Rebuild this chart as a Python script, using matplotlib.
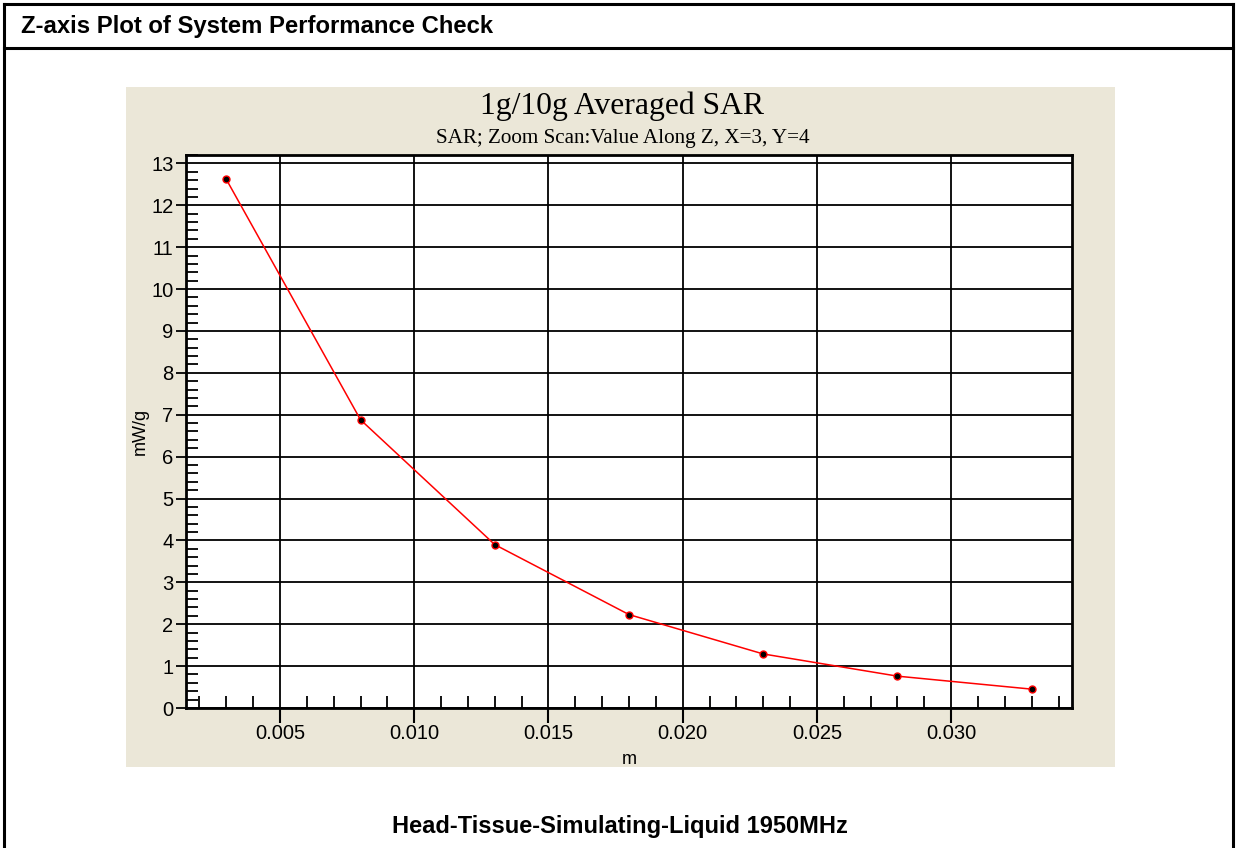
import matplotlib
matplotlib.use("Agg")
import matplotlib.pyplot as plt
from matplotlib.patches import Rectangle
from matplotlib.lines import Line2D
from matplotlib.ticker import MultipleLocator, FormatStrFormatter

# Data
z_m = [0.003, 0.008, 0.013, 0.018, 0.023, 0.028, 0.033]
sar = [12.62, 6.88, 3.90, 2.23, 1.29, 0.76, 0.45]

header = "Z-axis Plot of System Performance Check"
title = "1g/10g Averaged SAR"
subtitle = "SAR; Zoom Scan:Value Along Z, X=3, Y=4"
xlabel = "m"
ylabel = "mW/g"
footer = "Head-Tissue-Simulating-Liquid 1950MHz"

W, H = 1237, 848
fig = plt.figure(figsize=(W / 100, H / 100), dpi=100)
fig.patch.set_facecolor("white")

def fx(px):
    return px / W

def fy(py):
    return 1 - py / H

# Outer frame (left, right, top) and header separator
lw_frame = 2.2
kw = dict(color="black", lw=lw_frame, transform=fig.transFigure, solid_capstyle="projecting")
fig.add_artist(Line2D([fx(4), fx(4)], [fy(4), fy(850)], **kw))
fig.add_artist(Line2D([fx(1233), fx(1233)], [fy(4), fy(850)], **kw))
fig.add_artist(Line2D([fx(4), fx(1233)], [fy(4), fy(4)], **kw))
fig.add_artist(Line2D([fx(4), fx(1233)], [fy(48), fy(48)], **kw))

fig.text(fx(21), fy(27), header, fontsize=17.2, fontweight="bold", family="Liberation Sans",
         ha="left", va="center")

# Beige panel
fig.add_artist(Rectangle((fx(126), fy(767)), fx(1115 - 126), (767 - 87) / H,
                         facecolor="#EBE7D8", edgecolor="none", transform=fig.transFigure, zorder=0))

fig.text(fx(622), fy(106), title, fontsize=22.8, family="Liberation Serif", ha="center", va="center")
fig.text(fx(623), fy(138), subtitle, fontsize=15.2, family="Liberation Serif", ha="center", va="center")

# Axes
ax = fig.add_axes([fx(186), fy(708), fx(1072 - 186), (708 - 155) / H])
ax.set_facecolor("white")
ax.plot(z_m, sar, color="red", lw=1.1, zorder=3)
ax.plot(z_m, sar, ls="none", marker="o", ms=5, markerfacecolor="black",
        markeredgecolor="red", markeredgewidth=1, zorder=4)

ax.set_xlim(0.0015, 0.0345)
ax.set_ylim(0, 13.2)

ax.xaxis.set_major_locator(MultipleLocator(0.005))
ax.xaxis.set_minor_locator(MultipleLocator(0.001))
ax.xaxis.set_major_formatter(FormatStrFormatter("%.3f"))
ax.yaxis.set_major_locator(MultipleLocator(1))
ax.yaxis.set_minor_locator(MultipleLocator(0.2))

ax.grid(True, which="major", color="black", lw=1.3)
ax.set_axisbelow(True)

ax.tick_params(axis="x", which="major", direction="out", length=11, width=1.5,
               labelsize=14.5, colors="black", pad=0.5)
ax.tick_params(axis="y", which="major", direction="out", length=7, width=1.3,
               labelsize=14.5, colors="black", pad=2)
ax.tick_params(axis="both", which="minor", direction="in", length=8.5, width=1.3)
for lab in ax.get_xticklabels() + ax.get_yticklabels():
    lab.set_family("Liberation Sans")

for s in ax.spines.values():
    s.set_linewidth(2)
    s.set_color("black")

ax.set_xlabel(xlabel, fontsize=13, family="Liberation Sans", labelpad=6)
ax.set_ylabel(ylabel, fontsize=13, family="Liberation Sans", labelpad=2)

fig.text(fx(620), fy(827), footer, fontsize=17, fontweight="bold", family="Liberation Sans",
         ha="center", va="center")

fig.savefig("out.png", dpi=100, facecolor="white")
